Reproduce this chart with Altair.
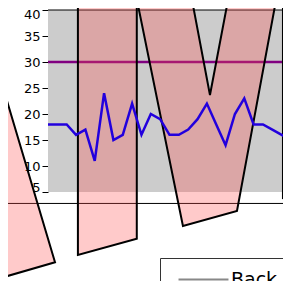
import altair as alt
import pandas as pd

# blue series (category index 0..26)
values = [18, 18, 18, 16, 17, 11, 24, 15, 16, 22, 16, 20, 19, 16, 16, 17,
          19, 22, 18, 14, 20, 23, 18, 18, 17, 16, 15]
threshold = 30
y_ticks = [5, 10, 15, 20, 25, 30, 35, 40]
legend_label = "Back limit"

# skewed pink shapes, vertices in data units (category, value)
poly_id = ["A"] * 5 + ["B"] * 5 + ["C"] * 8 + ["D"] * 6
poly_x = [-4.8, 0.75, -7.3, -7.3, -4.8,
          3.2, 3.2, 9.5, 9.5, 3.2,
          9.52, 14.44, 20.22, 24.4, 19.26, 17.33, 15.41, 9.52,
          25.14, 25.14, 26.0, 27.0, 27.0, 25.14]
poly_y = [25, -8.5, -12.7, 20.8, 25,
          46, -7.1, -4.0, 46, 46,
          41.9, -1.54, 1.35, 41.9, 41.9, 23.65, 41.9, 41.9,
          41.9, 3.85, 4.23, 4.7, 41.9, 41.9]

df_line = pd.DataFrame({"i": list(range(len(values))), "v": values})
df_bg = pd.DataFrame({"x0": [0], "x1": [27], "y0": [5], "y1": [40], "s": [legend_label]})
df_thr = pd.DataFrame({"x0": [0], "x1": [27], "y": [threshold]})
df_frame = pd.DataFrame({"x0": [0, -6], "x1": [27, 27], "y": [40, 2.8]})
df_poly = pd.DataFrame({"p": poly_id, "o": list(range(len(poly_id))), "x": poly_x, "y": poly_y})

xs = alt.Scale(domain=[0, 26], nice=False, zero=False)
ys = alt.Scale(domain=[5, 40], nice=False, zero=False)
y_axis = alt.Axis(
    values=y_ticks, domain=False, grid=False, ticks=True, tickSize=6,
    tickColor="black", tickWidth=1, labelColor="black", labelFont="DejaVu Sans",
    labelFontSize=13, labelPadding=2, labelOverlap=False, labelBound=False,
    labelFlush=True, labelFlushOffset=2, title=None)

bg = alt.Chart(df_bg).mark_rect(opacity=1).encode(
    x=alt.X("x0:Q", scale=xs, axis=None),
    x2="x1:Q",
    y=alt.Y("y0:Q", scale=ys, axis=y_axis),
    y2="y1:Q",
    color=alt.Color("s:N", scale=alt.Scale(domain=[legend_label], range=["#cccccc"]),
                    legend=alt.Legend(orient="none", legendX=112, legendY=248, title=None,
                                      symbolType="M-4,0H4", symbolSize=156,
                                      symbolOffset=22,
                                      symbolStrokeWidth=2, symbolStrokeColor="#888888",
                                      padding=12, strokeColor="#333333", fillColor="white",
                                      labelFontSize=19, labelFont="DejaVu Sans",
                                      labelColor="black", labelOffset=18)),
)

thr = alt.Chart(df_thr).mark_rule(color="#800080", strokeWidth=2.5).encode(
    x=alt.X("x0:Q", scale=xs, axis=None), x2="x1:Q",
    y=alt.Y("y:Q", scale=ys, axis=y_axis))

frame = alt.Chart(df_frame).mark_rule(color="black", strokeWidth=1).encode(
    x=alt.X("x0:Q", scale=xs, axis=None), x2="x1:Q",
    y=alt.Y("y:Q", scale=ys, axis=y_axis))

poly = alt.Chart(df_poly).mark_line(filled=True, fill="#ff5050", fillOpacity=0.3,
                                    stroke="black", strokeWidth=2).encode(
    x=alt.X("x:Q", scale=xs, axis=None), y=alt.Y("y:Q", scale=ys, axis=y_axis),
    detail="p:N", order="o:Q")

line = alt.Chart(df_line).mark_line(color="#2200dd", strokeWidth=2.5).encode(
    x=alt.X("i:Q", scale=xs, axis=None), y=alt.Y("v:Q", scale=ys, axis=y_axis))

chart = alt.layer(bg, thr, frame, poly, line).properties(
    width=243, height=182,
    padding={"left": 40, "top": 2, "right": -8, "bottom": 89},
    autosize=alt.AutoSizeParams(type="none"),
).configure_view(stroke=None).configure_axis(labelOverlap=False)

chart.save("out.html", embed_options={"renderer": "svg", "actions": False})
